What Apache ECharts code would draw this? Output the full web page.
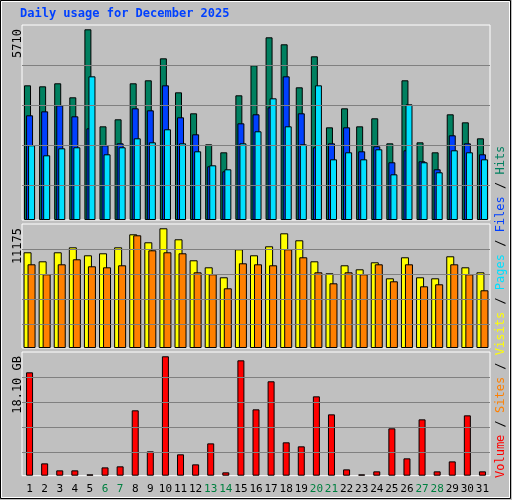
<!DOCTYPE html>
<html><head><meta charset="utf-8">
<script src="https://cdn.jsdelivr.net/npm/echarts@6/dist/echarts.min.js"></script>
<style>html,body{margin:0;padding:0;background:#c0c0c0}#c{width:512px;height:500px}</style>
</head><body><div id="c"></div>
<script>
const days = Array.from({length:31},(_,i)=>String(i+1));
const weekend = ['6','7','13','14','20','21','27','28'];
const hits = [4033,4003,4093,3674,5710,2805,3015,4093,4183,4841,3823,3195,2266,2027,3734,4632,5470,5261,3973,4901,2775,3344,2805,3045,2296,4183,2326,2027,3165,2925,2446];
const files = [3135,3254,3434,3105,2745,2237,2296,3344,3284,4033,3075,2566,1608,1458,2895,3165,3374,4302,3195,2177,2296,2775,2057,2207,1728,2087,1757,1518,2536,2296,1967];
const pages = [2237,1937,2147,2177,4302,1967,2177,2446,2326,2716,2296,2057,1638,1518,2296,2656,3644,2805,2266,4033,1817,2027,1817,2117,1368,3464,1728,1428,2087,2027,1817];
const visits = [8935,8094,8935,9401,8655,8841,9401,10615,9868,11175,10148,8188,7534,6601,9215,8655,9495,10708,10055,8094,6974,7721,7347,8001,6507,8468,6601,6507,8561,7534,7067];
const sites = [7814,6881,7814,8281,7628,7534,7721,10522,9121,8935,8841,7067,6881,5574,7908,7814,7721,9215,8468,7067,6040,7067,6881,7814,6227,7814,5760,5947,7814,6881,5387];
const volumeGB = [15.67,1.87,0.81,0.81,0.2,1.26,1.42,9.91,3.69,18.10,3.24,1.72,4.90,0.51,17.49,10.06,14.31,5.06,4.45,12.03,9.30,0.96,0.2,0.66,7.18,2.63,8.54,0.66,2.17,9.15,0.66];
const maxLabels = ['5710','11175','18.10 GB'];

const mono = 'DejaVu Sans Mono';
const L=22, W=468;
const grids=[{left:L,width:W,top:25,height:195},{left:L,width:W,top:224,height:124},{left:L,width:W,top:352,height:123.7}];
const ymax=[5839,11576,18.75];
const glines=[[1048,2246,3444,4641],[2212,4546,6880,9214],[3.53,7.32,11.11,14.90]];
const bs={borderColor:'#000',borderWidth:1};
function gl(i){return {silent:true,symbol:'none',label:{show:false},lineStyle:{color:'#808080',type:'solid',width:1},data:glines[i].map(v=>({yAxis:v}))};}
const chart=echarts.init(document.getElementById('c'));
chart.setOption({
  backgroundColor:'#c0c0c0',animation:false,
  grid:grids.map(g=>Object.assign({show:true,borderColor:'#fff',borderWidth:1,backgroundColor:'#c0c0c0'},g)),
  xAxis:[0,1,2].map(i=>({type:'category',gridIndex:i,data:days,axisLine:{show:false},axisTick:{show:false},
    axisLabel:{show:i===2,interval:0,fontFamily:mono,fontSize:11,margin:8,color:(v)=>weekend.includes(v)?'#008040':'#000'}})),
  yAxis:[0,1,2].map(i=>({type:'value',gridIndex:i,min:0,max:ymax[i],axisLabel:{show:false},splitLine:{show:false},axisLine:{show:false},axisTick:{show:false}})),
  series:[
    {type:'bar',xAxisIndex:0,yAxisIndex:0,data:hits,barWidth:7,barGap:'-71%',itemStyle:Object.assign({color:'#008060'},bs),markLine:gl(0),z:2},
    {type:'bar',xAxisIndex:0,yAxisIndex:0,data:files,barWidth:7,barGap:'-71%',itemStyle:Object.assign({color:'#0040ff'},bs),z:3},
    {type:'bar',xAxisIndex:0,yAxisIndex:0,data:pages,barWidth:7,barGap:'-71%',itemStyle:Object.assign({color:'#00e0ff'},bs),z:4},
    {type:'bar',xAxisIndex:1,yAxisIndex:1,data:visits,barWidth:8,barGap:'-50%',itemStyle:Object.assign({color:'#ffff00'},bs),markLine:gl(1),z:2},
    {type:'bar',xAxisIndex:1,yAxisIndex:1,data:sites,barWidth:8,barGap:'-50%',itemStyle:Object.assign({color:'#ff8000'},bs),z:3},
    {type:'bar',xAxisIndex:2,yAxisIndex:2,data:volumeGB,barWidth:7,itemStyle:Object.assign({color:'#ff0000'},bs),markLine:gl(2),z:2}
  ],
  graphic:[
    {type:'rect',shape:{x:0.5,y:0.5,width:510,height:498},style:{fill:null,stroke:'#000',lineWidth:1},silent:true},
    {type:'rect',shape:{x:1.5,y:1.5,width:508,height:496},style:{fill:null,stroke:'#fff',lineWidth:1},silent:true},
    {type:'text',left:20,top:8,style:{text:'Daily usage for December 2025',font:'bold 12px "DejaVu Sans Mono"',fill:'#0040ff'}},
    {type:'text',x:12,y:29,rotation:Math.PI/2,style:{text:maxLabels[0],font:'12px "DejaVu Sans Mono"',fill:'#000',align:'right',verticalAlign:'top'}},
    {type:'text',x:12,y:228,rotation:Math.PI/2,style:{text:maxLabels[1],font:'12px "DejaVu Sans Mono"',fill:'#000',align:'right',verticalAlign:'top'}},
    {type:'text',x:12,y:356,rotation:Math.PI/2,style:{text:maxLabels[2],font:'12px "DejaVu Sans Mono"',fill:'#000',align:'right',verticalAlign:'top'}},
    {type:'text',x:495,y:478,rotation:Math.PI/2,style:{
      text:'{r|Volume}{k| / }{o|Sites}{k| / }{y|Visits}{k| / }{c|Pages}{k| / }{b|Files}{k| / }{g|Hits}',
      font:'12px "DejaVu Sans Mono"',align:'left',verticalAlign:'top',
      rich:{r:{fill:'#ff0000'},o:{fill:'#ff8000'},y:{fill:'#ffff00'},c:{fill:'#00e0ff'},b:{fill:'#0040ff'},g:{fill:'#008060'},k:{fill:'#000'}}}}
  ]
});
</script></body></html>
